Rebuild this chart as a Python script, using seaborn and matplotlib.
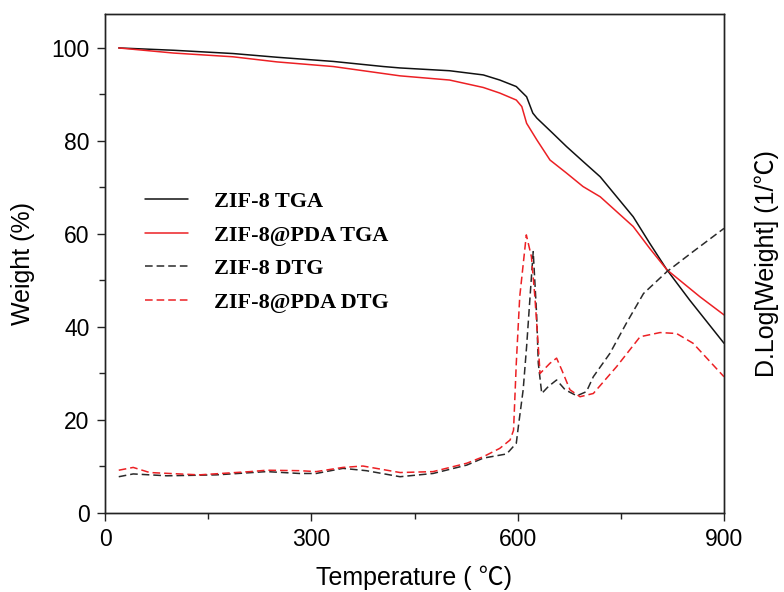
import matplotlib
matplotlib.use("Agg")
import matplotlib.pyplot as plt
from matplotlib.ticker import MultipleLocator
import pandas as pd
import seaborn as sns

# TGA: weight remaining (%) vs temperature (°C)
zif8_tga_t = [20, 100, 186, 250, 332, 405, 429, 501, 550, 574, 598, 613, 622, 628,
              650, 671, 695, 720, 744, 768, 792, 817, 850, 900]
zif8_tga_w = [100, 99.5, 98.8, 98.0, 97.1, 96.0, 95.7, 95.1, 94.2, 93.1, 91.7, 89.5,
              86.0, 84.9, 81.8, 78.8, 75.6, 72.3, 68.0, 63.7, 58.0, 52.3, 45.8, 36.5]

pda_tga_t = [20, 100, 186, 250, 332, 429, 501, 550, 574, 598, 606, 613, 628, 647,
             671, 695, 720, 744, 768, 792, 817, 841, 865, 900]
pda_tga_w = [100, 98.9, 98.1, 97.0, 96.0, 94.0, 93.1, 91.5, 90.3, 88.8, 87.4, 83.8,
             80.2, 75.9, 73.1, 70.2, 68.0, 64.8, 61.6, 56.9, 52.3, 49.4, 46.5, 42.6]

# DTG: derivative of log weight, drawn on the secondary axis
zif8_dtg_t = [20, 41, 90, 162, 235, 283, 307, 346, 380, 429, 477, 526, 550, 584, 598,
              601, 608, 613, 618, 622.6, 627.5, 630, 635, 644.6, 656.6, 669, 686, 700,
              710, 734, 758, 783, 817, 855, 900]
zif8_dtg_v = [7.8, 8.4, 8.0, 8.2, 8.9, 8.5, 8.5, 9.6, 9.1, 7.8, 8.5, 10.3, 11.8, 12.7,
              15.0, 18.6, 26.5, 35.8, 46.5, 56.2, 42.9, 32.2, 25.7, 27.2, 28.6, 26.5,
              25.2, 26.1, 29.3, 34.3, 40.8, 47.2, 51.9, 56.2, 61.2]

pda_dtg_t = [20, 41, 65, 137, 211, 235, 283, 307, 346, 375, 429, 477, 526, 550, 574,
             589, 594, 598, 603, 612.6, 620, 625, 630, 632.5, 647, 656.6, 664, 676,
             690.6, 710, 744, 778, 807, 831, 855, 900]
pda_dtg_v = [9.2, 9.8, 8.7, 8.2, 8.9, 9.2, 9.1, 8.9, 9.8, 10.1, 8.7, 8.9, 10.7, 12.1,
             13.9, 15.7, 17.8, 32.2, 46.5, 59.8, 55.1, 46.5, 35.8, 30.0, 32.2, 33.3,
             30.8, 26.5, 25.0, 25.7, 31.5, 37.9, 38.8, 38.6, 36.5, 29.3]

labels = ["ZIF-8 TGA", "ZIF-8@PDA TGA", "ZIF-8 DTG", "ZIF-8@PDA DTG"]

sns.set_style("ticks")
plt.rcParams["font.family"] = ["Liberation Sans", "Noto Sans CJK SC", "DejaVu Sans"]
plt.rcParams.update({"text.color": "black", "axes.labelcolor": "black",
                     "xtick.labelcolor": "black", "ytick.labelcolor": "black"})

RED = "#ec2024"
BLACK = "#111111"
DARK = "#2a2a2a"

fig = plt.figure(figsize=(7.84, 5.92), dpi=100)
ax = fig.add_axes([105 / 784, 1 - 513 / 592, 619 / 784, 499 / 592])
ax2 = ax.twinx()

tga1 = pd.DataFrame({"t": zif8_tga_t, "w": zif8_tga_w})
tga2 = pd.DataFrame({"t": pda_tga_t, "w": pda_tga_w})
dtg1 = pd.DataFrame({"t": zif8_dtg_t, "v": zif8_dtg_v})
dtg2 = pd.DataFrame({"t": pda_dtg_t, "v": pda_dtg_v})

dash = (0, (5, 2.6))
sns.lineplot(data=tga1, x="t", y="w", ax=ax, color=BLACK, lw=1.1, label=labels[0], legend=False)
sns.lineplot(data=tga2, x="t", y="w", ax=ax, color=RED, lw=1.1, label=labels[1], legend=False)
sns.lineplot(data=dtg1, x="t", y="v", ax=ax2, color=DARK, lw=1.1, linestyle=dash,
             label=labels[2], legend=False)
sns.lineplot(data=dtg2, x="t", y="v", ax=ax2, color=RED, lw=1.1, linestyle=dash,
             label=labels[3], legend=False)

ymax = 107.3
for a in (ax, ax2):
    a.set_xlim(0, 900)
    a.set_ylim(0, ymax)
    a.grid(False)
    for s in a.spines.values():
        s.set_visible(True)
        s.set_linewidth(1.0)
        s.set_color("#222222")

ax.xaxis.set_major_locator(MultipleLocator(300))
ax.xaxis.set_minor_locator(MultipleLocator(150))
ax.yaxis.set_major_locator(MultipleLocator(20))
ax.yaxis.set_minor_locator(MultipleLocator(10))
ax.tick_params(axis="both", which="major", direction="out", length=6, width=1.0,
               labelsize=16.5, pad=5, color="#222222", labelcolor="black")
ax.tick_params(axis="both", which="minor", direction="out", length=4, width=1.0,
               color="#222222")
ax.tick_params(top=False, right=False, which="both")
ax2.set_yticks([])
ax2.set_xlabel("")

ax.set_xlabel("Temperature ( \u2103)", fontsize=18, labelpad=10, color="black")
ax.set_ylabel("Weight (%)", fontsize=18, labelpad=12, color="black")
ax2.set_ylabel("D.Log[Weight] (1/\u2103)", fontsize=18, labelpad=22, color="black")

handles = ax.get_lines()[:2] + ax2.get_lines()[:2]
leg = ax2.legend(handles, labels, loc="upper left", bbox_to_anchor=(0.033, 0.684),
                 frameon=False, handlelength=1.9, handletextpad=1.2,
                 labelspacing=0.58,
                 prop={"family": "Liberation Serif", "weight": "bold", "size": 16})

fig.savefig("out.png", dpi=100)
